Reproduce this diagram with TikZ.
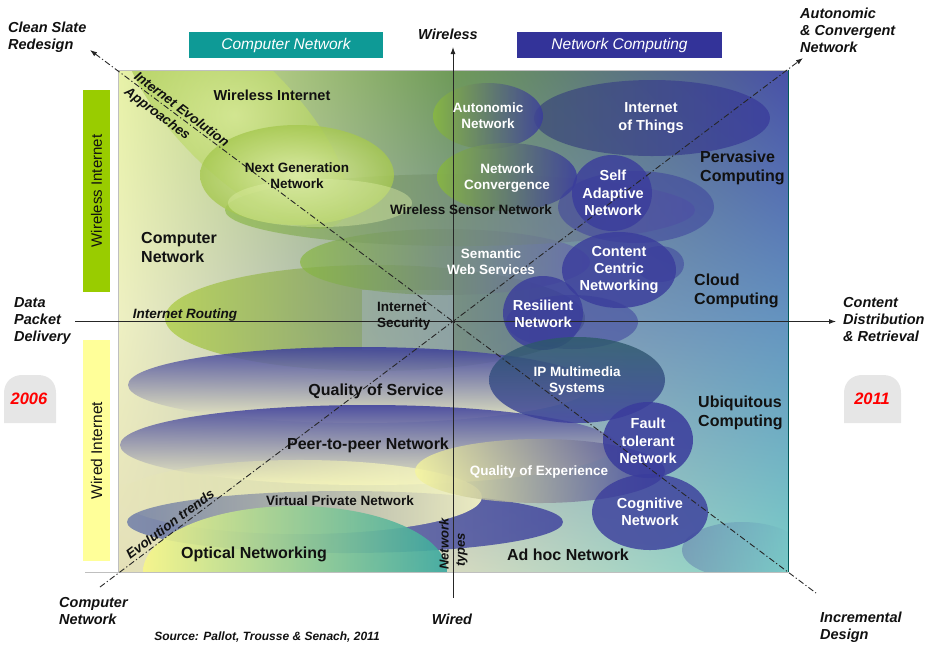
\documentclass[tikz,border=0pt]{standalone}
\usepackage{fontspec}
\setmainfont{Liberation Sans}
\usetikzlibrary{arrows.meta,fadings,shadings}
\newcommand\fsz[2]{\fontsize{#1}{#2}\selectfont}
\definecolor{bteal}{HTML}{0E9A96}
\definecolor{bblue}{HTML}{333399}
\definecolor{gbar}{HTML}{99CC00}
\definecolor{ybar}{HTML}{FFFF99}
\definecolor{badge}{HTML}{E6E6E6}
\definecolor{yred}{HTML}{FF0000}
\definecolor{bgA}{HTML}{E8F2A8}
\definecolor{bgB}{HTML}{6E9A58}
\definecolor{bgC}{HTML}{4850A8}
\definecolor{bgD}{HTML}{EEF0C2}
\definecolor{bgE}{HTML}{8C9CAE}
\definecolor{bgF}{HTML}{6494C0}
\definecolor{bgG}{HTML}{E4E0B8}
\definecolor{bgH}{HTML}{D6DAC0}
\definecolor{bgI}{HTML}{7CCEC8}
\definecolor{eblue}{HTML}{3A3C9C}
\definecolor{egreen}{HTML}{88B840}
\definecolor{lgreen}{HTML}{D8EC90}
\definecolor{mgreen}{HTML}{A6C850}
\definecolor{pyel}{HTML}{F4F4C4}
\definecolor{slate}{HTML}{405078}
\definecolor{grblue}{HTML}{587090}
\definecolor{teal2}{HTML}{3AA8A0}
\definecolor{vpnl}{HTML}{6878A8}
\definecolor{ipm}{HTML}{2C5A68}
\definecolor{secu}{HTML}{A8B8CC}
\definecolor{txt}{HTML}{111111}
\tikzset{
  lab/.style={font=\bfseries\fsz{13.5}{16.2}, align=center, inner sep=0pt, text=txt},
  labm/.style={font=\bfseries\fsz{14.5}{17.4}, align=center, inner sep=0pt, text=txt},
  wl/.style={lab, text=white},
  wlm/.style={labm, text=white},
  big/.style={font=\bfseries\fsz{16}{19}, align=left, inner sep=0pt, text=txt},
  outl/.style={font=\bfseries\itshape\fsz{14.5}{17}, align=left, inner sep=0pt, anchor=west, text=txt},
  diag/.style={font=\bfseries\itshape\fsz{13.5}{16}, inner sep=0pt, text=txt},
  banner/.style={font=\itshape\fsz{15.5}{18}, text=white, inner sep=0pt},
  axisline/.style={line width=0.9pt, draw=black!85},
  dashdot/.style={line width=0.9pt, draw=black!85, dash pattern=on 6pt off 2.5pt on 1.2pt off 2.5pt},
}
\begin{document}
\begin{tikzpicture}[x=1pt,y=-1pt]
\useasboundingbox (0,0) rectangle (933,646);

% ---------- main field ----------
\begin{scope}
\clip (118,70) rectangle (788,572);
\shade[upper left=bgA, upper right=bgB, lower left=bgD, lower right=bgE] (118,70) rectangle (454,322);
\shade[upper left=bgB, upper right=bgC, lower left=bgE, lower right=bgF] (453,70) rectangle (788,322);
\shade[upper left=bgD, upper right=bgE, lower left=bgG, lower right=bgH] (118,321) rectangle (454,572);
\shade[upper left=bgE, upper right=bgF, lower left=bgH, lower right=bgI] (453,321) rectangle (788,572);

% green family
\shade[rotate around={-45:(235,115)}, inner color=lgreen, outer color=mgreen, opacity=.75] (235,115) ellipse [x radius=150, y radius=58];
\shade[left color=mgreen!90!yellow, right color=grblue, opacity=.8] (375,318) ellipse [x radius=210, y radius=53];
\fill[secu, opacity=.45] (362,290) rectangle (453,350);
\shade[left color=egreen, right color=eblue!80, opacity=.7] (445,262) ellipse [x radius=145, y radius=33];
\shade[left color=egreen, right color=eblue!80, opacity=.65] (460,210) ellipse [x radius=235, y radius=36];
\shade[inner color=lgreen!70!white, outer color=mgreen, opacity=.8] (297,175) ellipse [x radius=97, y radius=50];
\fill[lgreen!80!white, opacity=.4] (320,203) ellipse [x radius=92, y radius=24];

% wired family
\shade[top color=eblue, bottom color=pyel, opacity=.85] (360,385) ellipse [x radius=232, y radius=38];
\shade[top color=eblue, bottom color=pyel, opacity=.85] (368,445) ellipse [x radius=248, y radius=40];
\shade[left color=vpnl, right color=eblue, opacity=.8] (345,522) ellipse [x radius=218, y radius=31];
\shade[left color=pyel!80!yellow, right color=pyel, path fading=west, opacity=.95] (300,497) ellipse [x radius=182, y radius=37];
\shade[left color=pyel!80!yellow, right color=eblue, opacity=.8] (540,471) ellipse [x radius=125, y radius=32];
\shade[left color=pyel!70!yellow, right color=teal2, opacity=.9] (295,572) ellipse [x radius=152, y radius=66];

% network computing family
\shade[left color=slate, right color=eblue, opacity=.8] (652,118) ellipse [x radius=118, y radius=38];
\shade[left color=egreen, right color=eblue, opacity=.85] (488,116) ellipse [x radius=55, y radius=33];
\shade[left color=egreen, right color=eblue, opacity=.85] (507,177) ellipse [x radius=70, y radius=34];
\fill[eblue, opacity=.5] (636,207) ellipse [x radius=78, y radius=36];
\fill[eblue, opacity=.8] (612,193) ellipse [x radius=40, y radius=38];
\fill[eblue, opacity=.5] (660,264) ellipse [x radius=24, y radius=18];
\fill[eblue, opacity=.8] (619,270) ellipse [x radius=57, y radius=38];
\fill[eblue, opacity=.5] (572,322) ellipse [x radius=66, y radius=27];
\fill[eblue, opacity=.8] (543,313) ellipse [x radius=40, y radius=37];
\shade[top color=ipm, bottom color=eblue, opacity=.8] (577,380) ellipse [x radius=88, y radius=43];
\fill[eblue, opacity=.85] (648,440) ellipse [x radius=45, y radius=38];
\fill[eblue, opacity=.8] (650,512) ellipse [x radius=58, y radius=38];
\shade[left color=eblue, right color=bgI, opacity=.3] (742,550) ellipse [x radius=60, y radius=28];
\end{scope}
\draw[black!25, line width=0.6pt] (118,572) -- (118,70) -- (788,70);
\draw[teal!70!black, line width=0.6pt] (788,70) -- (788,572);
\draw[black!25, line width=0.8pt] (85,572) -- (788,572);

% ---------- banners and side bars ----------
\node[fill=bteal, minimum width=194pt, minimum height=26pt, banner] (cnb) at (286,45) {Computer Network};
\node[fill=bblue, minimum width=205pt, minimum height=26pt, banner] (ncb) at (619.5,45) {Network Computing};
\node[fill=gbar, minimum width=27pt, minimum height=202pt, inner sep=0pt] (wibar) at (96.5,191) {};
\node[rotate=90, font=\fsz{15}{18}, text=txt, inner sep=0pt] (wit) at (wibar.center) {Wireless Internet};
\node[fill=ybar, minimum width=27pt, minimum height=221pt, inner sep=0pt] (wdbar) at (96.5,450.5) {};
\node[rotate=90, font=\fsz{15.5}{18}, text=txt, inner sep=0pt] (wdt) at (wdbar.center) {Wired Internet};

% year badges
\fill[badge] (4,423) -- (4,393) .. controls (4,382) and (12,375) .. (22,375) -- (38,375) .. controls (49,375) and (56,382) .. (56,393) -- (56,423) -- cycle;
\fill[badge] (844,423) -- (844,393) .. controls (844,382) and (852,375) .. (862,375) -- (883,375) .. controls (894,375) and (901,382) .. (901,393) -- (901,423) -- cycle;
\node[font=\bfseries\itshape\fsz{16.5}{19}, text=yred, inner sep=0pt] (y06) at (29,399) {2006};
\node[font=\bfseries\itshape\fsz{16.5}{19}, text=yred, inner sep=0pt] (y11) at (872,399) {2011};

% ---------- axes ----------
\coordinate (hL) at (75,321.5);
\coordinate (hR) at (836,321.5);
\coordinate (vB) at (453,598);
\coordinate (vT) at (453,47);
\coordinate (d1a) at (100,587);
\coordinate (d1b) at (803,58);
\coordinate (d2a) at (90,50);
\coordinate (d2b) at (816,593);
\draw[axisline, -{Latex[length=7pt,width=5pt]}] (hL) -- (hR);
\draw[axisline, -{Latex[length=7pt,width=5pt]}] (vB) -- (vT);
\draw[dashdot, -{Latex[length=7pt,width=5pt]}] (d1a) -- (d1b);
\draw[dashdot, {Latex[length=7pt,width=5pt]}-] (d2a) -- (d2b);

% ---------- outer labels ----------
\node[outl] (csr) at (8,37) {Clean Slate\\Redesign};
\node[outl, anchor=center] (wls) at (448,34) {Wireless};
\node[outl] (acn) at (800,30) {Autonomic\\\& Convergent\\Network};
\node[outl] (dpd) at (14,321) {Data\\Packet\\Delivery};
\node[outl] (cdr) at (843,319) {Content\\Distribution\\\& Retrieval};
\node[outl] (cnw) at (59,611) {Computer\\Network};
\node[outl, anchor=center] (wrd) at (452,619) {Wired};
\node[outl] (icd) at (820,627) {Incremental\\Design};
\node[font=\bfseries\itshape\fsz{12}{14}, text=txt, inner sep=0pt] (src) at (267,637) {Source: Pallot, Trousse \& Senach, 2011};

% diagonal labels
\node[diag, rotate=-37] (iev) at (182,109) {Internet Evolution};
\node[diag, rotate=-37] (iap) at (157,114) {Approaches};
\node[diag, rotate=37] (evt) at (170,524) {Evolution trends};
\node[font=\bfseries\itshape\fsz{13}{15}, text=txt, inner sep=0pt, rotate=90] (ntn) at (444,544) {Network};
\node[font=\bfseries\itshape\fsz{13}{15}, text=txt, inner sep=0pt, rotate=90] (ntt) at (462,550) {types};

% ---------- inner labels ----------
\node[labm] (wi) at (272,95) {Wireless Internet};
\node[lab] (ngn) at (297,176) {Next Generation\\Network};
\node[big, anchor=west] (cnl) at (141,247) {Computer\\Network};
\node[diag] (irt) at (185,315) {Internet Routing};
\node[lab, align=left, anchor=west] (isc) at (377,316) {Internet\\Security};
\node[lab] (wsn) at (471,210) {Wireless Sensor Network};
\node[wl] (aut) at (488,116) {Autonomic\\Network};
\node[wlm] (iot) at (651,118) {Internet\\of Things};
\node[wl] (ncv) at (507,178) {Network\\Convergence};
\node[wlm] (san) at (613,193) {Self\\Adaptive\\Network};
\node[big, anchor=west] (pvc) at (700,168) {Pervasive\\Computing};
\node[wl] (sws) at (491,262) {Semantic\\Web Services};
\node[wlm] (ccn) at (619,270) {Content\\Centric\\Networking};
\node[big, anchor=west] (clc) at (694,291) {Cloud\\Computing};
\node[wlm] (rsn) at (543,314) {Resilient\\Network};
\node[wl] (ipm) at (577,381) {IP Multimedia\\Systems};
\node[big, anchor=west] (ubc) at (698,413) {Ubiquitous\\Computing};
\node[wlm] (ftn) at (648,441) {Fault\\tolerant\\Network};
\node[wl] (qoe) at (539,472) {Quality of Experience};
\node[wlm] (cgn) at (650,512) {Cognitive\\Network};
\node[big] (qos) at (376,391) {Quality of Service};
\node[big] (p2p) at (368,445) {Peer-to-peer Network};
\node[lab] (vpn) at (340,501) {Virtual Private Network};
\node[big] (opt) at (254,554) {Optical Networking};
\node[big] (ahn) at (568,555) {Ad hoc Network};
\end{tikzpicture}
\end{document}
